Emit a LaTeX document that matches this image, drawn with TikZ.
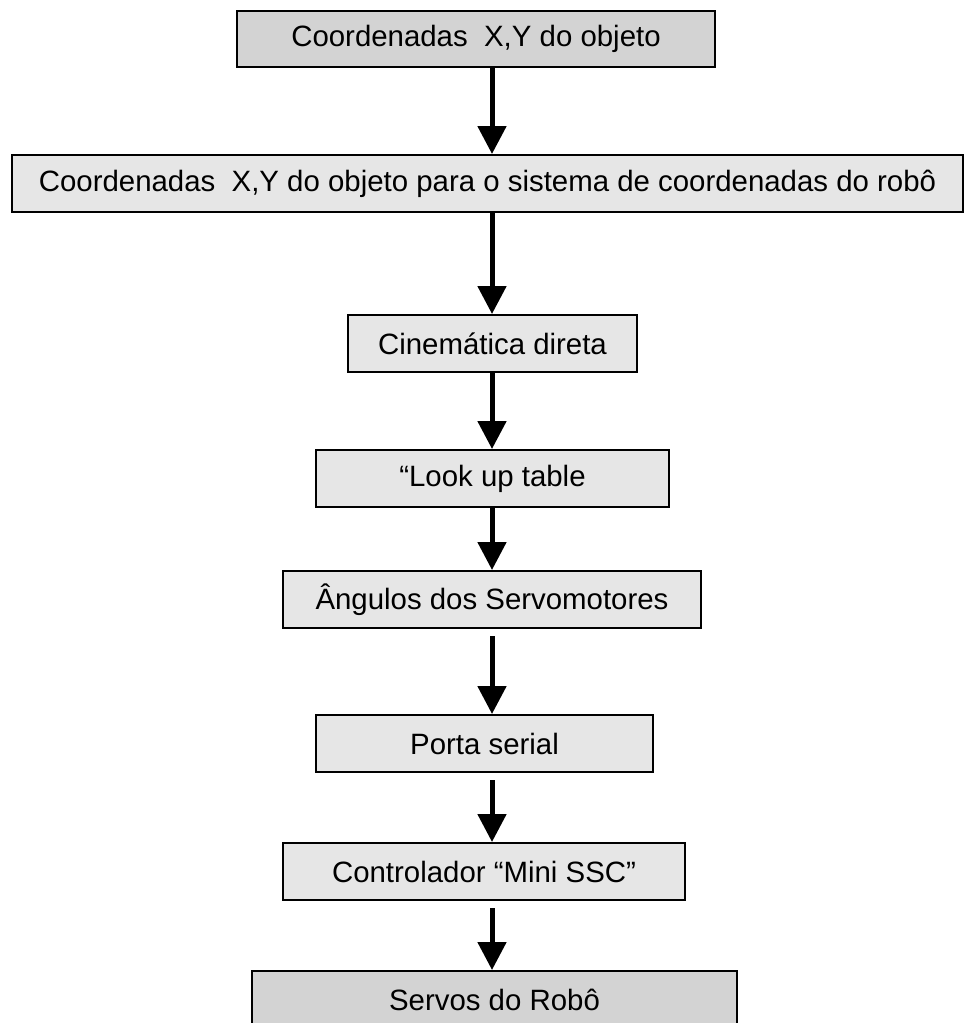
\documentclass[tikz,border=0pt]{standalone}
\usepackage{fontspec}
\setmainfont{Liberation Sans}
\usetikzlibrary{arrows.meta}

\definecolor{boxdark}{RGB}{211,211,211}
\definecolor{boxlight}{RGB}{230,230,230}

\begin{document}
\begin{tikzpicture}[x=0.5pt,y=-0.5pt,
  box/.style={draw,line width=1pt,fill=boxlight,inner sep=0pt,minimum height=28.5pt,
    font=\fontsize{14.7}{17}\selectfont},
  endbox/.style={box,fill=boxdark},
  arr/.style={line width=2.5pt,-{Triangle[width=14pt,length=14pt]}}]
  \useasboundingbox (0,0) rectangle (966,1023);
  \coordinate (ax) at (492,0);
  \node[endbox,minimum width=239pt,minimum height=28pt] (coord) at (476,39) {Coordenadas\ \ X,Y do objeto};
  \node[box,minimum width=475.5pt] (robo) at (487.5,183.5) {Coordenadas\ \ X,Y do objeto para o sistema de coordenadas do robô};
  \node[box,minimum width=144.5pt] (cine) at (492.5,343.5) {Cinemática direta};
  \node[box,minimum width=176.5pt] (tabela) at (492.5,478.5) {“Look up table};
  \node[box,minimum width=209pt] (angulos) at (492,599.5) {Ângulos dos Servomotores};
  \node[box,minimum width=168.5pt] (porta) at (484.5,743.5) {Porta serial};
  \node[box,minimum width=201pt] (ssc) at (484,871.5) {Controlador “Mini SSC”};
  \node[endbox,minimum width=242.5pt] (servos) at (494.5,999.5) {Servos do Robô};
  \draw[arr] (coord.south -| ax) -- (robo.north -| ax);
  \draw[arr] (robo.south -| ax) -- (cine.north -| ax);
  \draw[arr] (cine.south -| ax) -- (tabela.north -| ax);
  \draw[arr] (tabela.south -| ax) -- (angulos.north -| ax);
  \draw[arr,shorten <=3.5pt] (angulos.south -| ax) -- (porta.north -| ax);
  \draw[arr,shorten <=3.5pt] (porta.south -| ax) -- (ssc.north -| ax);
  \draw[arr,shorten <=3.5pt] (ssc.south -| ax) -- (servos.north -| ax);
\end{tikzpicture}
\end{document}
